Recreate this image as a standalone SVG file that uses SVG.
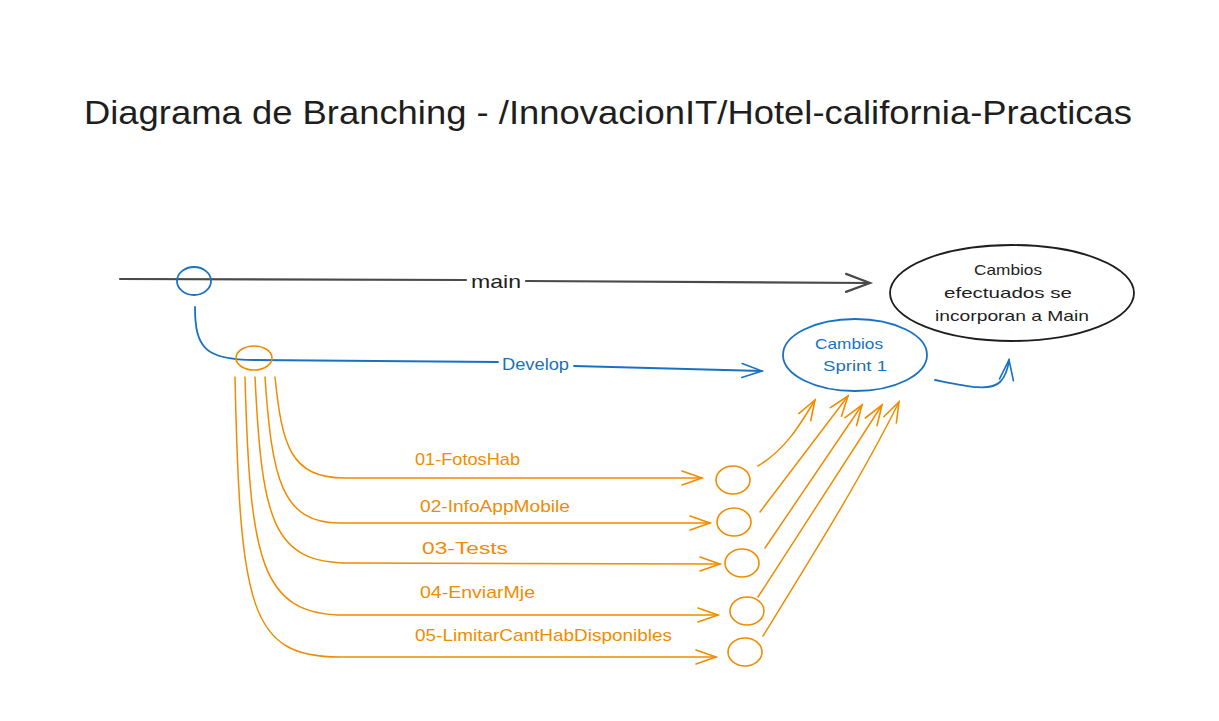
<svg xmlns="http://www.w3.org/2000/svg" width="1219" height="721" viewBox="0 0 1219 721">
<style>
text{font-family:"Liberation Sans","DejaVu Sans",sans-serif}
.t{fill:#1e1e1e}
.b{fill:#1971c2}
.o{fill:#f08c00}
.ls{fill:none;stroke-linecap:round;stroke-linejoin:round}
</style>
<defs>
<marker id="ak" markerUnits="userSpaceOnUse" orient="auto" refX="0" refY="0" markerWidth="30" markerHeight="30" viewBox="-20 -15 30 30" overflow="visible"><path d="M-24,-9 L0,0 L-24,9" fill="none" stroke="#4a4a4a" stroke-width="2.2" stroke-linecap="round"/></marker>
<marker id="ab" markerUnits="userSpaceOnUse" orient="auto" refX="0" refY="0" markerWidth="30" markerHeight="30" viewBox="-20 -15 30 30" overflow="visible"><path d="M-20,-7 L0,0 L-20,7" fill="none" stroke="#1971c2" stroke-width="1.6" stroke-linecap="round"/></marker>
<marker id="ao" markerUnits="userSpaceOnUse" orient="auto" refX="0" refY="0" markerWidth="30" markerHeight="30" viewBox="-20 -15 30 30" overflow="visible"><path d="M-20,-7 L0,0 L-20,7" fill="none" stroke="#f08c00" stroke-width="1.6" stroke-linecap="round"/></marker>
</defs>
<rect width="1219" height="721" fill="#ffffff"/>
<text class="t" x="84" y="124" font-size="33" textLength="1048" lengthAdjust="spacingAndGlyphs">Diagrama de Branching - /InnovacionIT/Hotel-california-Practicas</text>

<g id="connectors">
<path class="ls" d="M120,279 L466,280" stroke="#4a4a4a" stroke-width="2.2"/>
<path class="ls" d="M526,281 L870,283" stroke="#4a4a4a" stroke-width="2.2" marker-end="url(#ak)"/>
<text class="t" x="471" y="288" font-size="19" textLength="50" lengthAdjust="spacingAndGlyphs">main</text>

<path class="ls" d="M195,307 C195,348 205,360 255,360 L498,362" stroke="#1971c2" stroke-width="1.8"/>
<path class="ls" d="M574,366 L762,371" stroke="#1971c2" stroke-width="1.8" marker-end="url(#ab)"/>
<text class="b" x="502" y="370" font-size="17" textLength="67" lengthAdjust="spacingAndGlyphs">Develop</text>

<path class="ls" d="M935,380 C965,386 990,392 1000,382 C1006,376 1008,368 1009,360" stroke="#1971c2" stroke-width="1.8" marker-end="url(#ab)"/>

<g stroke="#f08c00" stroke-width="1.5" class="ls">
<path d="M275,377 C282,445 290,478 345,478 L702,478" marker-end="url(#ao)"/>
<path d="M265,377 C272,480 282,523 340,523 L710,523" marker-end="url(#ao)"/>
<path d="M255,377 C262,520 272,563 350,563 L720,564" marker-end="url(#ao)"/>
<path d="M245,377 C250,560 260,615 345,615 L718,615" marker-end="url(#ao)"/>
<path d="M235,377 C240,610 250,657 340,657 L716,657" marker-end="url(#ao)"/>
<path d="M758,466 C785,450 800,425 815,400" marker-end="url(#ao)"/>
<path d="M760,512 L848,396" marker-end="url(#ao)"/>
<path d="M765,548 L862,405" marker-end="url(#ao)"/>
<path d="M758,597 L882,405" marker-end="url(#ao)"/>
<path d="M763,636 C810,560 860,480 899,402" marker-end="url(#ao)"/>
</g>
<text class="o" x="415" y="465" font-size="17" textLength="105" lengthAdjust="spacingAndGlyphs">01-FotosHab</text>
<text class="o" x="420" y="512" font-size="17" textLength="150" lengthAdjust="spacingAndGlyphs">02-InfoAppMobile</text>
<text class="o" x="422" y="554" font-size="17" textLength="86" lengthAdjust="spacingAndGlyphs">03-Tests</text>
<text class="o" x="420" y="598" font-size="17" textLength="115" lengthAdjust="spacingAndGlyphs">04-EnviarMje</text>
<text class="o" x="415" y="641" font-size="17" textLength="257" lengthAdjust="spacingAndGlyphs">05-LimitarCantHabDisponibles</text>
</g>

<g id="commit-main"><ellipse cx="194" cy="281" rx="17" ry="14" fill="none" stroke="#1971c2" stroke-width="1.8"/></g>
<g id="commit-develop"><ellipse cx="254" cy="358" rx="18" ry="12" fill="none" stroke="#f08c00" stroke-width="1.6"/></g>
<g id="c1"><ellipse cx="733" cy="480" rx="17" ry="14" fill="none" stroke="#f08c00" stroke-width="1.6"/></g>
<g id="c2"><ellipse cx="734" cy="522" rx="17" ry="14" fill="none" stroke="#f08c00" stroke-width="1.6"/></g>
<g id="c3"><ellipse cx="742" cy="563" rx="17" ry="14" fill="none" stroke="#f08c00" stroke-width="1.6"/></g>
<g id="c4"><ellipse cx="747" cy="611" rx="17" ry="14" fill="none" stroke="#f08c00" stroke-width="1.6"/></g>
<g id="c5"><ellipse cx="745" cy="652" rx="17" ry="14" fill="none" stroke="#f08c00" stroke-width="1.6"/></g>

<g id="sprint">
<ellipse cx="855" cy="355" rx="72" ry="36" fill="none" stroke="#1971c2" stroke-width="1.8"/>
<text class="b" x="815" y="349" font-size="15" textLength="68" lengthAdjust="spacingAndGlyphs">Cambios</text>
<text class="b" x="823" y="371" font-size="15" textLength="64" lengthAdjust="spacingAndGlyphs">Sprint 1</text>
</g>
<g id="main-node">
<ellipse cx="1012" cy="293" rx="122" ry="48" fill="none" stroke="#1e1e1e" stroke-width="1.8"/>
<text class="t" x="974" y="275" font-size="15" textLength="68" lengthAdjust="spacingAndGlyphs">Cambios</text>
<text class="t" x="944" y="298" font-size="15" textLength="128" lengthAdjust="spacingAndGlyphs">efectuados se</text>
<text class="t" x="935" y="321" font-size="15" textLength="154" lengthAdjust="spacingAndGlyphs">incorporan a Main</text>
</g>
</svg>
